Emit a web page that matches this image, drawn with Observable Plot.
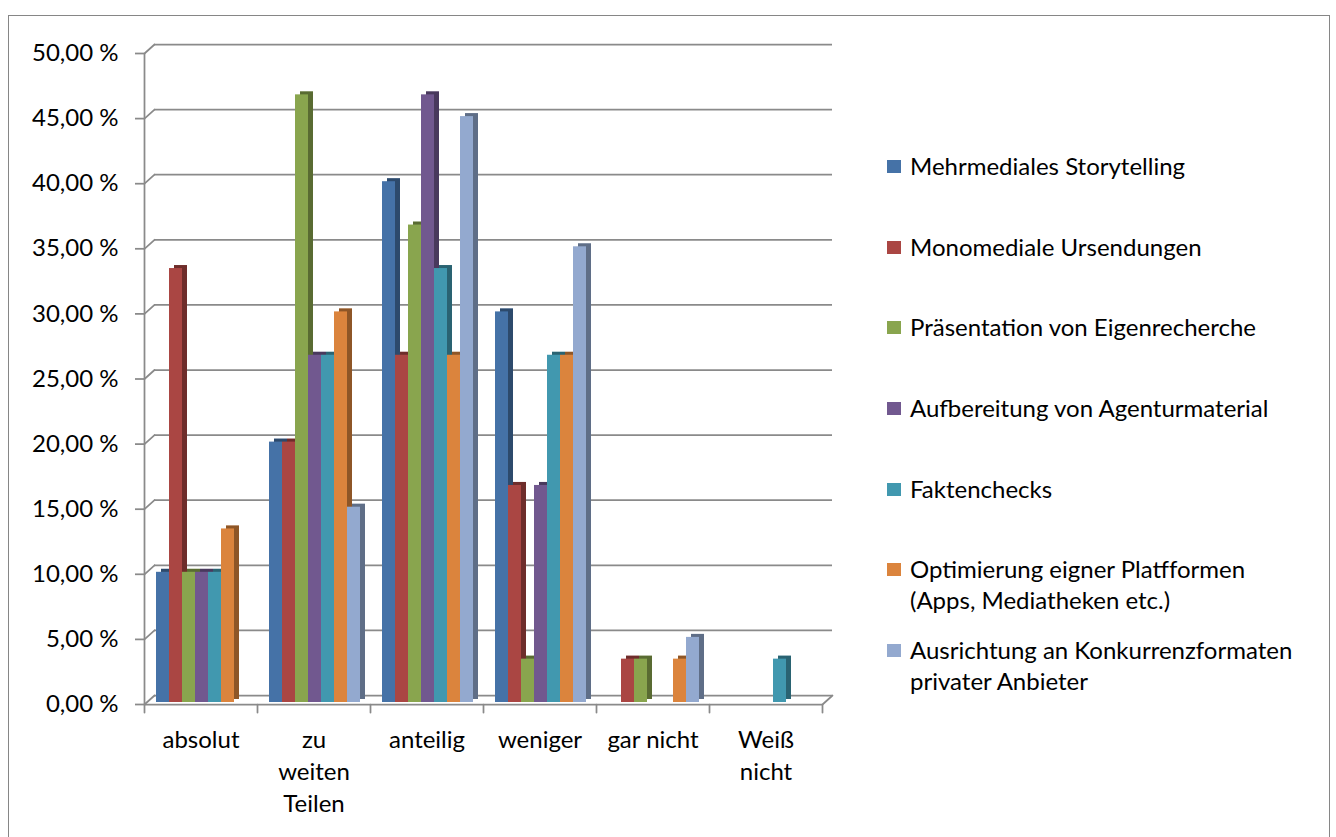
<!DOCTYPE html>
<html><head><meta charset="utf-8">
<script src="https://cdn.jsdelivr.net/npm/d3@7"></script>
<script src="https://cdn.jsdelivr.net/npm/@observablehq/plot@0.6"></script>
<style>
html,body{margin:0;padding:0;background:#fff;overflow:hidden;}
body{width:1336px;height:837px;position:relative;font-family:Lato, sans-serif;}
#frame{position:absolute;left:8px;top:15px;width:1322px;height:840px;border:1.5px solid #868686;box-sizing:border-box;}
#chart{position:absolute;left:0;top:0;}
#legend{position:absolute;left:887px;top:150px;display:grid;grid-auto-rows:80.67px;}
.item{display:flex;align-items:flex-start;font-size:24px;line-height:31px;color:#000;white-space:nowrap;}
.sw{width:14px;height:13px;margin-top:10px;margin-right:9px;flex:none;}
</style></head><body>
<div id="frame"></div><div id="chart"></div><div id="legend"></div>
<script>
const categories = ["absolut", "zu weiten Teilen", "anteilig", "weniger", "gar nicht", "Weiß nicht"];
const categoryLabels = ["absolut", "zu\nweiten\nTeilen", "anteilig", "weniger", "gar nicht", "Weiß\nnicht"];
const seriesNames = [
  "Mehrmediales Storytelling",
  "Monomediale Ursendungen",
  "Präsentation von Eigenrecherche",
  "Aufbereitung von Agenturmaterial",
  "Faktenchecks",
  "Optimierung eigner Platfformen (Apps, Mediatheken etc.)",
  "Ausrichtung an Konkurrenzformaten privater Anbieter"
];
const legendLabels = [
  "Mehrmediales Storytelling",
  "Monomediale Ursendungen",
  "Präsentation von Eigenrecherche",
  "Aufbereitung von Agenturmaterial",
  "Faktenchecks",
  "Optimierung eigner Platfformen<br>(Apps, Mediatheken etc.)",
  "Ausrichtung an Konkurrenzformaten<br>privater Anbieter"
];
const storytelling    = [10,    20,    40,    30,    0,    0];
const monomedial      = [33.33, 20,    26.67, 16.67, 3.33, 0];
const eigenrecherche  = [10,    46.67, 36.67, 3.33,  3.33, 0];
const agenturmaterial = [10,    26.67, 46.67, 16.67, 0,    0];
const faktenchecks    = [10,    26.67, 33.33, 26.67, 0,    3.33];
const plattformen     = [13.33, 30,    26.67, 26.67, 3.33, 0];
const konkurrenz      = [0,     15,    45,    35,    5,    0];
const seriesValues = [storytelling, monomedial, eigenrecherche, agenturmaterial, faktenchecks, plattformen, konkurrenz];
const colors = ["#4572A7", "#AA4643", "#89A54E", "#71588F", "#4198AF", "#DB843D", "#93A9CF"];
const yTicks = [0, 5, 10, 15, 20, 25, 30, 35, 40, 45, 50];

const data = [];
seriesNames.forEach((s, j) => categories.forEach((c, i) => data.push({cat: c, series: s, value: seriesValues[j][i]})));

const W = 860, H = 837, mL = 142, mR = W - 823, mT = 53, mB = H - 704;
const gray = "#8a8a8a";
const lineShape = {draw(ctx, l) { ctx.moveTo(0, 0); ctx.lineTo(0, -l); }};
const font = "Lato, sans-serif";

const chart = Plot.plot({
  width: W, height: H,
  marginLeft: mL, marginRight: mR, marginTop: mT, marginBottom: mB,
  style: {fontFamily: font, fontSize: "24px", color: "#000", background: "transparent", overflow: "visible"},
  fx: {domain: categories, padding: 0, axis: null},
  x: {domain: seriesNames, paddingInner: 0, paddingOuter: 0.8, axis: null},
  y: {domain: [0, 50], axis: null},
  color: {domain: seriesNames, range: colors},
  marks: [
    // back-wall gridlines
    Plot.ruleY(yTicks, {stroke: gray, strokeWidth: 1.75, dx: 10, dy: -9}),
    // left connectors from front ticks to back wall
    Plot.vector(yTicks, {fx: () => categories[0], y: d => d, frameAnchor: "left", length: 13.45, rotate: 48, anchor: "start", shape: lineShape, stroke: gray, strokeWidth: 1.75}),
    // right floor connector
    Plot.vector([0], {fx: () => categories[categories.length - 1], frameAnchor: "bottom-right", length: 13.45, rotate: 48, anchor: "start", shape: lineShape, stroke: gray, strokeWidth: 1.75}),
    // floor front edge
    Plot.ruleY([0], {stroke: gray, strokeWidth: 1.75}),
    // front y-axis line
    Plot.vector([0], {fx: () => categories[0], frameAnchor: "bottom-left", length: H - mT - mB, rotate: 0, anchor: "start", shape: lineShape, stroke: gray, strokeWidth: 1.75}),
    // category boundary ticks
    Plot.vector(categories, {fx: d => d, frameAnchor: "bottom-left", length: 8, rotate: 180, anchor: "start", shape: lineShape, stroke: gray, strokeWidth: 1.75}),
    Plot.vector([0], {fx: () => categories[categories.length - 1], frameAnchor: "bottom-right", length: 8, rotate: 180, anchor: "start", shape: lineShape, stroke: gray, strokeWidth: 1.75}),
    // 3D side/top faces
    Plot.barY(data, {fx: "cat", x: "series", y: "value", fill: "series", dx: 6, dy: -5}),
    Plot.barY(data, {fx: "cat", x: "series", y: "value", fill: "#000", fillOpacity: 0.35, dx: 6, dy: -5}),
    // front faces
    Plot.barY(data, {fx: "cat", x: "series", y: "value", fill: "series", dx: 1, dy: -2}),
    // y axis
    Plot.axisY(yTicks, {tickSize: 9, tickPadding: 17, stroke: gray, strokeWidth: 1.75, fill: "#000", fontSize: 24,
      tickFormat: d => d.toFixed(2).replace(".", ",") + " %", label: null}),
    // category labels
    Plot.text(categories, {fx: d => d, text: (d, i) => categoryLabels[i], frameAnchor: "bottom", lineAnchor: "top",
      dy: 21, lineHeight: 1.33, fontSize: 24, fill: "#000"})
  ]
});
document.getElementById("chart").appendChild(chart);

const legend = document.getElementById("legend");
legendLabels.forEach((t, j) => {
  const item = document.createElement("div");
  item.className = "item";
  item.innerHTML = `<span class="sw" style="background:${colors[j]}"></span><span>${t}</span>`;
  legend.appendChild(item);
});
</script>
</body></html>
